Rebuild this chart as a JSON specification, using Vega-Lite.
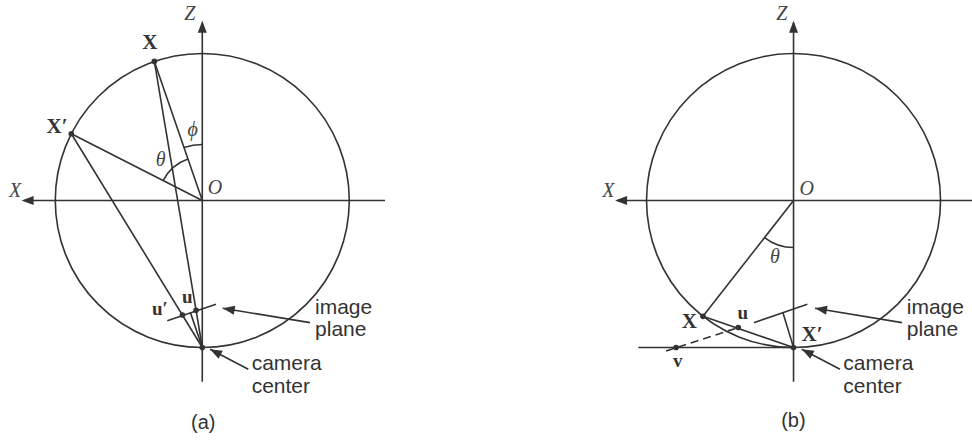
{
  "$schema": "https://vega.github.io/schema/vega-lite/v6.json",
  "padding": 0,
  "spacing": 0,
  "background": "white",
  "config": {"view": {"stroke": null}},
  "datasets": {
    "a_arcs": [
      {"x": 0, "z": 0, "r": 1, "t1": 0, "t2": 360},
      {"x": 0, "z": 0, "r": 0.381, "t1": -19, "t2": 0},
      {"x": 0, "z": 0, "r": 0.299, "t1": -63, "t2": -19}
    ],
    "a_lines": [
      {"x": 0, "z": -1.233, "x2": 0, "z2": 1.21},
      {"x": 1.21, "z": 0, "x2": -1.243, "z2": 0},
      {"x": 0, "z": 0, "x2": 0.326, "z2": 0.946},
      {"x": 0, "z": 0, "x2": 0.891, "z2": 0.454},
      {"x": 0.326, "z": 0.946, "x2": 0, "z2": -1},
      {"x": 0.891, "z": 0.454, "x2": 0, "z2": -1},
      {"x": 0.238, "z": -0.818, "x2": -0.093, "z2": -0.706},
      {"x": 0.080, "z": -0.7645, "x2": 0, "z2": -1},
      {"x": -0.733, "z": -0.831, "x2": -0.139, "z2": -0.733},
      {"x": -0.313, "z": -1.148, "x2": -0.053, "z2": -1.012}
    ],
    "a_heads": [
      {"x": 0, "z": 1.223, "heading": 0},
      {"x": 1.229, "z": 0, "heading": -90},
      {"x": -0.139, "z": -0.733, "heading": -80.6},
      {"x": -0.053, "z": -1.012, "heading": -62.4}
    ],
    "a_dots": [
      {"x": 0.326, "z": 0.946},
      {"x": 0.891, "z": 0.454},
      {"x": 0, "z": -1},
      {"x": 0.042, "z": -0.747},
      {"x": 0.135, "z": -0.779}
    ],
    "a_italic": [
      {"x": 0.084, "z": 1.269, "label": "Z"},
      {"x": 1.274, "z": 0.067, "label": "X"},
      {"x": -0.086, "z": 0.083, "label": "O"},
      {"x": 0.065, "z": 0.48, "label": "ϕ"},
      {"x": 0.283, "z": 0.276, "label": "θ"}
    ],
    "a_bold": [
      {"x": 0.356, "z": 1.073, "label": "X"},
      {"x": 0.988, "z": 0.5, "label": "X′"}
    ],
    "a_small": [
      {"x": 0.102, "z": -0.654, "label": "u"},
      {"x": 0.288, "z": -0.74, "label": "u′"}
    ],
    "a_notes": [
      {"x": -0.767, "z": -0.728, "label": "image"},
      {"x": -0.767, "z": -0.884, "label": "plane"},
      {"x": -0.336, "z": -1.112, "label": "camera"},
      {"x": -0.336, "z": -1.269, "label": "center"}
    ],
    "a_caption": [{"x": -0.007, "z": -1.512, "label": "(a)"}],
    "b_arcs": [
      {"x": 0, "z": 0, "r": 1, "t1": 0, "t2": 360},
      {"x": 0, "z": 0, "r": 0.32, "t1": 180, "t2": 218}
    ],
    "b_lines": [
      {"x": 0, "z": -1.233, "x2": 0, "z2": 1.21},
      {"x": 1.2, "z": 0, "x2": -1.22, "z2": 0},
      {"x": 0, "z": 0, "x2": 0.616, "z2": -0.788},
      {"x": 0.616, "z": -0.788, "x2": 0, "z2": -1},
      {"x": 1.056, "z": -1, "x2": 0, "z2": -1},
      {"x": 0.269, "z": -0.831, "x2": -0.094, "z2": -0.706},
      {"x": 0.073, "z": -0.761, "x2": 0, "z2": -1},
      {"x": -0.738, "z": -0.831, "x2": -0.146, "z2": -0.733},
      {"x": -0.316, "z": -1.148, "x2": -0.056, "z2": -1.012}
    ],
    "b_dashed": [
      {"x": 0.867, "z": -1.024, "x2": 0.376, "z2": -0.864}
    ],
    "b_heads": [
      {"x": 0, "z": 1.223, "heading": 0},
      {"x": 1.214, "z": 0, "heading": -90},
      {"x": -0.146, "z": -0.733, "heading": -80.4},
      {"x": -0.056, "z": -1.012, "heading": -62.4}
    ],
    "b_dots": [
      {"x": 0.616, "z": -0.788},
      {"x": 0, "z": -1},
      {"x": 0.376, "z": -0.864},
      {"x": 0.799, "z": -1.0}
    ],
    "b_italic": [
      {"x": 0.08, "z": 1.269, "label": "Z"},
      {"x": 1.26, "z": 0.067, "label": "X"},
      {"x": -0.09, "z": 0.076, "label": "O"},
      {"x": 0.126, "z": -0.386, "label": "θ"}
    ],
    "b_bold": [
      {"x": 0.709, "z": -0.824, "label": "X"},
      {"x": -0.126, "z": -0.915, "label": "X′"}
    ],
    "b_small": [
      {"x": 0.346, "z": -0.767, "label": "u"},
      {"x": 0.788, "z": -1.092, "label": "v"}
    ],
    "b_notes": [
      {"x": -0.77, "z": -0.728, "label": "image"},
      {"x": -0.77, "z": -0.884, "label": "plane"},
      {"x": -0.339, "z": -1.112, "label": "camera"},
      {"x": -0.339, "z": -1.269, "label": "center"}
    ],
    "b_caption": [{"x": 0.001, "z": -1.503, "label": "(b)"}]
  },
  "hconcat": [
    {
      "width": 486,
      "height": 442,
      "encoding": {
        "x": {"field": "x", "type": "quantitative", "axis": null, "scale": {"domain": [-1.93, 1.376], "reverse": true, "nice": false, "zero": false}},
        "y": {"field": "z", "type": "quantitative", "axis": null, "scale": {"domain": [-1.643, 1.364], "nice": false, "zero": false}}
      },
      "layer": [
        {
          "data": {"name": "a_arcs"},
          "mark": {"type": "arc", "filled": false, "stroke": "#333", "strokeWidth": 1.6},
          "encoding": {
            "theta": {"field": "t1", "type": "quantitative", "scale": {"type": "linear", "domain": [0, 360], "range": [0, 6.283185307179586], "zero": false}},
            "theta2": {"field": "t2"},
            "radius": {"field": "r", "type": "quantitative", "scale": {"type": "linear", "domain": [0, 1], "range": [0, 147], "zero": true}},
            "radius2": {"field": "r"}
          }
        },
        {
          "data": {"name": "a_lines"},
          "mark": {"type": "rule", "color": "#333", "strokeWidth": 1.6},
          "encoding": {"x2": {"field": "x2"}, "y2": {"field": "z2"}}
        },
        {
          "data": {"name": "a_heads"},
          "mark": {"type": "point", "shape": "M0,0L0.75,2L-0.75,2Z", "filled": true, "color": "#333", "opacity": 1, "size": 144, "strokeWidth": 0},
          "encoding": {"angle": {"field": "heading", "type": "quantitative", "scale": null}}
        },
        {
          "data": {"name": "a_dots"},
          "mark": {"type": "circle", "color": "#333", "opacity": 1, "size": 32},
          "encoding": {}
        },
        {
          "data": {"name": "a_italic"},
          "mark": {"type": "text", "font": "Liberation Serif", "fontStyle": "italic", "fontSize": 20, "color": "#444", "baseline": "middle", "align": "center"},
          "encoding": {"text": {"field": "label"}}
        },
        {
          "data": {"name": "a_bold"},
          "mark": {"type": "text", "font": "Liberation Serif", "fontWeight": "bold", "fontSize": 21, "color": "#333", "baseline": "middle", "align": "center"},
          "encoding": {"text": {"field": "label"}}
        },
        {
          "data": {"name": "a_small"},
          "mark": {"type": "text", "font": "Liberation Serif", "fontWeight": "bold", "fontSize": 19, "color": "#333", "baseline": "middle", "align": "center"},
          "encoding": {"text": {"field": "label"}}
        },
        {
          "data": {"name": "a_notes"},
          "mark": {"type": "text", "font": "Liberation Sans", "fontSize": 21, "color": "#333", "baseline": "middle", "align": "left"},
          "encoding": {"text": {"field": "label"}}
        },
        {
          "data": {"name": "a_caption"},
          "mark": {"type": "text", "font": "Liberation Sans", "fontSize": 20, "color": "#333", "baseline": "middle", "align": "center"},
          "encoding": {"text": {"field": "label"}}
        }
      ]
    },
    {
      "width": 486,
      "height": 442,
      "encoding": {
        "x": {"field": "x", "type": "quantitative", "axis": null, "scale": {"domain": [-1.214, 2.092], "reverse": true, "nice": false, "zero": false}},
        "y": {"field": "z", "type": "quantitative", "axis": null, "scale": {"domain": [-1.643, 1.364], "nice": false, "zero": false}}
      },
      "layer": [
        {
          "data": {"name": "b_arcs"},
          "mark": {"type": "arc", "filled": false, "stroke": "#333", "strokeWidth": 1.6},
          "encoding": {
            "theta": {"field": "t1", "type": "quantitative", "scale": {"type": "linear", "domain": [0, 360], "range": [0, 6.283185307179586], "zero": false}},
            "theta2": {"field": "t2"},
            "radius": {"field": "r", "type": "quantitative", "scale": {"type": "linear", "domain": [0, 1], "range": [0, 147], "zero": true}},
            "radius2": {"field": "r"}
          }
        },
        {
          "data": {"name": "b_lines"},
          "mark": {"type": "rule", "color": "#333", "strokeWidth": 1.6},
          "encoding": {"x2": {"field": "x2"}, "y2": {"field": "z2"}}
        },
        {
          "data": {"name": "b_dashed"},
          "mark": {"type": "rule", "color": "#333", "strokeWidth": 1.6, "strokeDash": [8, 5]},
          "encoding": {"x2": {"field": "x2"}, "y2": {"field": "z2"}}
        },
        {
          "data": {"name": "b_heads"},
          "mark": {"type": "point", "shape": "M0,0L0.75,2L-0.75,2Z", "filled": true, "color": "#333", "opacity": 1, "size": 144, "strokeWidth": 0},
          "encoding": {"angle": {"field": "heading", "type": "quantitative", "scale": null}}
        },
        {
          "data": {"name": "b_dots"},
          "mark": {"type": "circle", "color": "#333", "opacity": 1, "size": 32},
          "encoding": {}
        },
        {
          "data": {"name": "b_italic"},
          "mark": {"type": "text", "font": "Liberation Serif", "fontStyle": "italic", "fontSize": 20, "color": "#444", "baseline": "middle", "align": "center"},
          "encoding": {"text": {"field": "label"}}
        },
        {
          "data": {"name": "b_bold"},
          "mark": {"type": "text", "font": "Liberation Serif", "fontWeight": "bold", "fontSize": 21, "color": "#333", "baseline": "middle", "align": "center"},
          "encoding": {"text": {"field": "label"}}
        },
        {
          "data": {"name": "b_small"},
          "mark": {"type": "text", "font": "Liberation Serif", "fontWeight": "bold", "fontSize": 19, "color": "#333", "baseline": "middle", "align": "center"},
          "encoding": {"text": {"field": "label"}}
        },
        {
          "data": {"name": "b_notes"},
          "mark": {"type": "text", "font": "Liberation Sans", "fontSize": 21, "color": "#333", "baseline": "middle", "align": "left"},
          "encoding": {"text": {"field": "label"}}
        },
        {
          "data": {"name": "b_caption"},
          "mark": {"type": "text", "font": "Liberation Sans", "fontSize": 20, "color": "#333", "baseline": "middle", "align": "center"},
          "encoding": {"text": {"field": "label"}}
        }
      ]
    }
  ]
}
